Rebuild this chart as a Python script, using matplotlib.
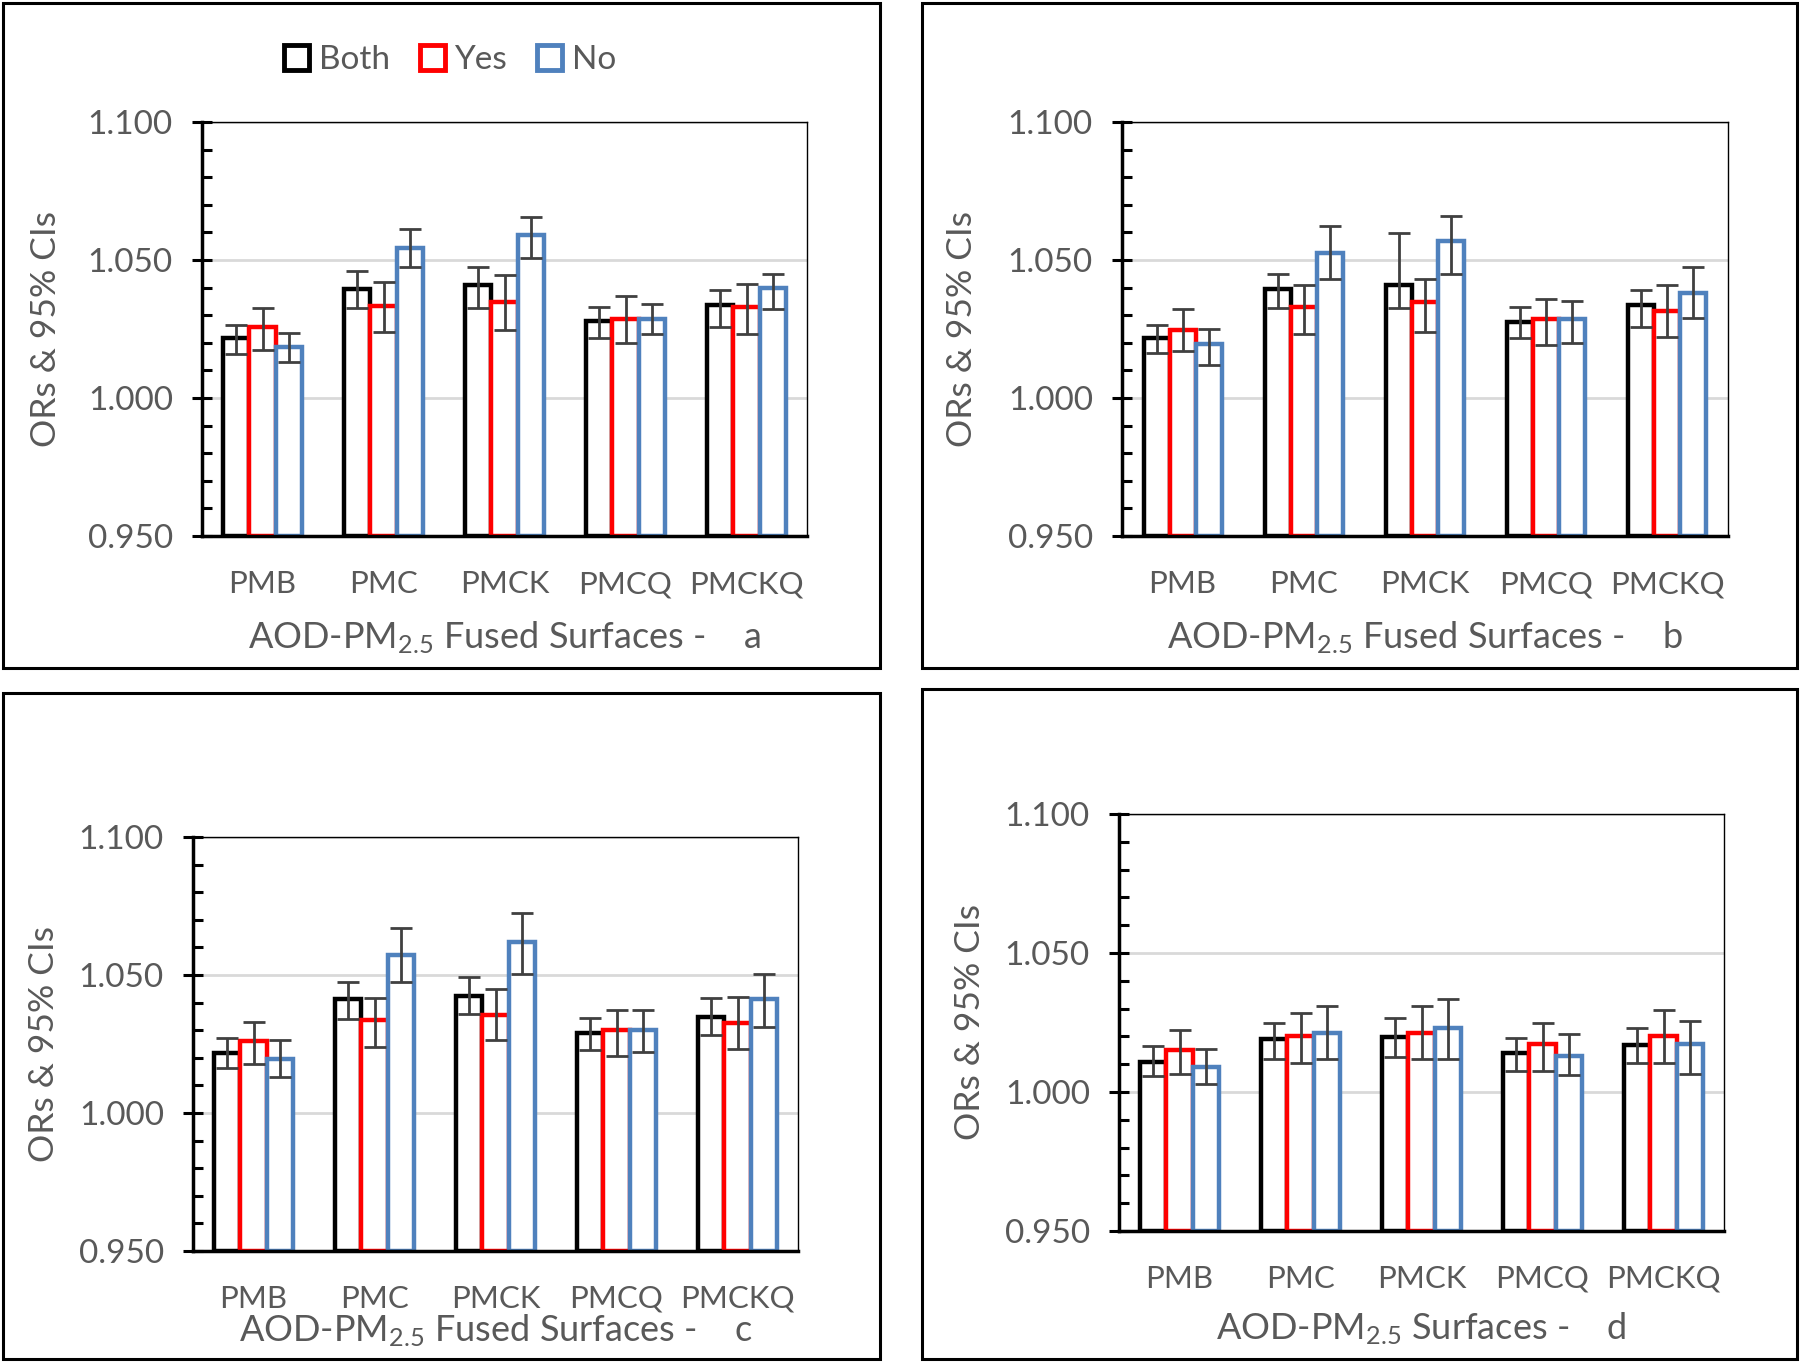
import matplotlib.pyplot as plt
from matplotlib.patches import Patch, Rectangle
from matplotlib.ticker import MultipleLocator
import numpy as np

plt.rcParams['font.family'] = ['Lato', 'DejaVu Sans']
plt.rcParams['mathtext.fontset'] = 'custom'
plt.rcParams['mathtext.rm'] = 'Lato'
plt.rcParams['mathtext.it'] = 'Lato:italic'

categories = ["PMB", "PMC", "PMCK", "PMCQ", "PMCKQ"]
groups = ["Both", "Yes", "No"]

# panel a: odds ratios, lower and upper CI
a_or = [[1.0217, 1.0396, 1.0408, 1.0278, 1.0336],
        [1.0256, 1.0333, 1.0349, 1.0287, 1.0330],
        [1.0185, 1.0545, 1.0589, 1.0287, 1.0397]]
a_lo = [[1.0160, 1.0327, 1.0327, 1.0218, 1.0259],
        [1.0173, 1.0239, 1.0248, 1.0201, 1.0232],
        [1.0129, 1.0476, 1.0507, 1.0231, 1.0322]]
a_hi = [[1.0264, 1.0460, 1.0473, 1.0328, 1.0390],
        [1.0327, 1.0420, 1.0444, 1.0370, 1.0413],
        [1.0234, 1.0612, 1.0655, 1.0341, 1.0450]]

# panel b
b_or = [[1.0217, 1.0396, 1.0408, 1.0275, 1.0336],
        [1.0245, 1.0328, 1.0347, 1.0287, 1.0317],
        [1.0196, 1.0526, 1.0568, 1.0287, 1.0381]]
b_lo = [[1.0162, 1.0327, 1.0327, 1.0218, 1.0259],
        [1.0170, 1.0232, 1.0239, 1.0192, 1.0220],
        [1.0118, 1.0432, 1.0449, 1.0201, 1.0290]]
b_hi = [[1.0264, 1.0450, 1.0597, 1.0328, 1.0390],
        [1.0323, 1.0411, 1.0430, 1.0360, 1.0411],
        [1.0251, 1.0623, 1.0659, 1.0353, 1.0473]]

# panel c
c_or = [[1.0218, 1.0413, 1.0424, 1.0289, 1.0349],
        [1.0260, 1.0336, 1.0355, 1.0300, 1.0326],
        [1.0196, 1.0571, 1.0618, 1.0300, 1.0413]]
c_lo = [[1.0164, 1.0341, 1.0358, 1.0229, 1.0281],
        [1.0177, 1.0240, 1.0265, 1.0205, 1.0233],
        [1.0132, 1.0473, 1.0505, 1.0221, 1.0312]]
c_hi = [[1.0271, 1.0476, 1.0494, 1.0344, 1.0415],
        [1.0331, 1.0418, 1.0451, 1.0374, 1.0421],
        [1.0265, 1.0669, 1.0726, 1.0374, 1.0505]]

# panel d
d_or = [[1.0109, 1.0190, 1.0199, 1.0139, 1.0170],
        [1.0150, 1.0201, 1.0212, 1.0173, 1.0201],
        [1.0090, 1.0212, 1.0231, 1.0131, 1.0173]]
d_lo = [[1.0059, 1.0118, 1.0125, 1.0076, 1.0106],
        [1.0064, 1.0106, 1.0118, 1.0076, 1.0106],
        [1.0028, 1.0118, 1.0118, 1.0061, 1.0064]]
d_hi = [[1.0165, 1.0248, 1.0266, 1.0193, 1.0232],
        [1.0224, 1.0285, 1.0308, 1.0248, 1.0296],
        [1.0153, 1.0308, 1.0336, 1.0207, 1.0255]]

colors = ["#000000", "#FF0000", "#4F81BD"]
grey = "#595959"
W, H = 1800, 1362


def draw_panel(ax, ors, lo, hi):
    x = np.arange(len(categories))
    w = 0.215
    for k in range(3):
        vals = np.array(ors[k])
        xs = x + (k - 1) * w
        ax.bar(xs, vals - 0.95, bottom=0.95, width=w, facecolor="white",
               edgecolor=colors[k], linewidth=3.2, zorder=2)
    for k in range(3):
        vals = np.array(ors[k])
        xs = x + (k - 1) * w
        err = [vals - np.array(lo[k]), np.array(hi[k]) - vals]
        ax.errorbar(xs, vals, yerr=err, fmt="none", ecolor="#404040",
                    elinewidth=2, capsize=8, capthick=2, zorder=3)
    ax.set_xlim(-0.5, 4.5)
    ax.set_ylim(0.95, 1.10)
    ax.yaxis.set_minor_locator(MultipleLocator(0.01))
    ax.set_yticks([0.95, 1.0, 1.05, 1.1])
    ax.set_yticklabels(["0.950", "1.000", "1.050", "1.100"])
    ax.set_xticks(x)
    ax.set_xticklabels([])
    ax.tick_params(axis="x", length=0)
    ax.tick_params(axis="y", which="major", direction="inout", length=14,
                   width=2.2, labelsize=24, labelcolor=grey, pad=14)
    ax.tick_params(axis="y", which="minor", direction="in", length=7, width=2.2)
    ax.grid(axis="y", which="major", color="#d9d9d9", linewidth=2, zorder=0)
    ax.set_axisbelow(True)
    ax.spines["left"].set_linewidth(2.5)
    ax.spines["bottom"].set_linewidth(2.5)
    ax.spines["top"].set_linewidth(1)
    ax.spines["right"].set_linewidth(1)
    for s in ["left", "bottom"]:
        ax.spines[s].set_zorder(4)


def fx(px):
    return px / W


def fy(py):
    return 1 - py / H


fig = plt.figure(figsize=(18, 13.62), dpi=100)

# panel frames
for (x0, y0, x1, y1) in [(3, 3, 880, 668), (922, 3, 1797, 668),
                         (3, 693, 880, 1359), (922, 689, 1797, 1359)]:
    fig.add_artist(Rectangle((fx(x0), fy(y1)), fx(x1 - x0), (y1 - y0) / H,
                             transform=fig.transFigure, fill=False,
                             edgecolor="black", linewidth=2.2))

panels = [
    # axes px box, data, ylabel x, category y, xlabel y, xlabel text
    ((202, 122, 807, 536), (a_or, a_lo, a_hi), 46, 584, 638,
     "AOD-PM$_{\\mathrm{2.5}}$ Fused Surfaces -    a"),
    ((1122, 122, 1728, 536), (b_or, b_lo, b_hi), 962, 584, 638,
     "AOD-PM$_{\\mathrm{2.5}}$ Fused Surfaces -    b"),
    ((193, 837, 798, 1251), (c_or, c_lo, c_hi), 44, 1299, 1331,
     "AOD-PM$_{\\mathrm{2.5}}$ Fused Surfaces -    c"),
    ((1119, 814, 1724, 1231), (d_or, d_lo, d_hi), 970, 1279, 1329,
     "AOD-PM$_{\\mathrm{2.5}}$ Surfaces -    d"),
]

axes = []
for (box, data, ylx, caty, xly, xlab) in panels:
    x0, y0, x1, y1 = box
    ax = fig.add_axes([fx(x0), fy(y1), fx(x1 - x0), (y1 - y0) / H])
    draw_panel(ax, *data)
    axes.append(ax)
    for i, c in enumerate(categories):
        xc = x0 + (i + 0.5) * (x1 - x0) / len(categories)
        fig.text(fx(xc), fy(caty), c, ha="center", va="center",
                 fontsize=22.5, color=grey)
    fig.text(fx((x0 + x1) / 2), fy(xly), xlab, ha="center", va="center",
             fontsize=26, color=grey)
    fig.text(fx(ylx), fy((y0 + y1) / 2), "ORs & 95% CIs", rotation=90,
             ha="center", va="center", fontsize=25.5, color=grey)

handles = [Patch(facecolor="white", edgecolor=colors[k], linewidth=3.5, label=groups[k])
           for k in range(3)]
fig.legend(handles=handles, loc="center", bbox_to_anchor=(fx(450), fy(60)),
           ncol=3, frameon=False, fontsize=24, handlelength=0.75, handleheight=0.75,
           handletextpad=0.3, columnspacing=0.9, labelcolor=grey)

fig.savefig("out.png", dpi=100)
